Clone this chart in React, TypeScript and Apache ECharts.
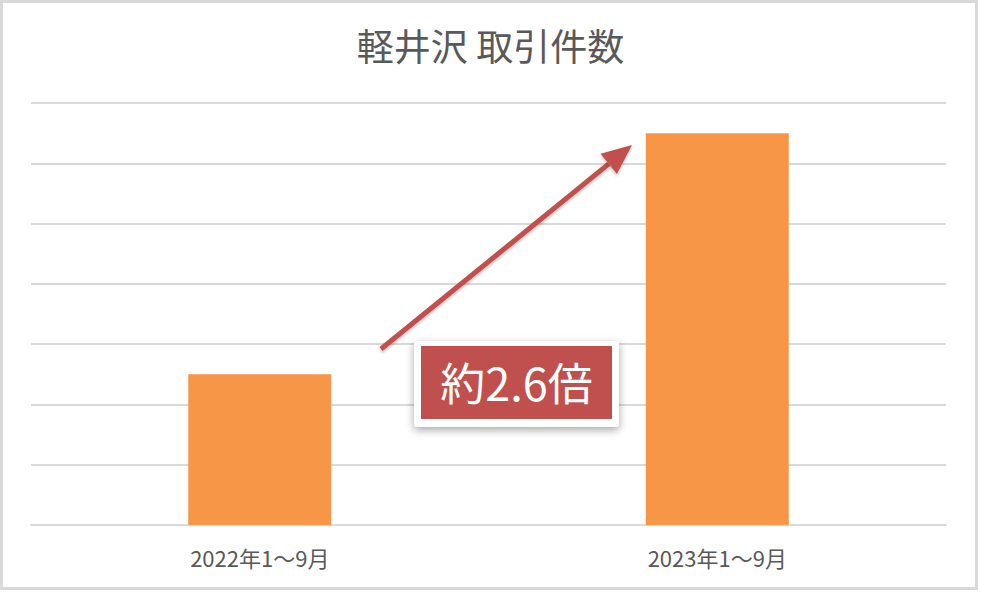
import React, { useEffect, useRef } from "react";
import * as echarts from "echarts";

const TITLE = "軽井沢 取引件数";
const categories = ["2022年1～9月", "2023年1～9月"];
const counts = [25, 65];
const ratioLabel = "約2.6倍";

const FONT = '"Noto Sans CJK JP", "Noto Sans", sans-serif';
const BAR_COLOR = "#f79646";
const RED = "#c0504d";
const GRID_COLOR = "#d9d9d9";
const TEXT_COLOR = "#595959";

// arrow: start and tip in pixels
const ARROW_FROM = [381, 349];
const ARROW_TIP = [632, 145];

function arrowHead(from: number[], tip: number[], len: number, half: number) {
    const dx = tip[0] - from[0];
    const dy = tip[1] - from[1];
    const d = Math.sqrt(dx * dx + dy * dy);
    const ux = dx / d;
    const uy = dy / d;
    const bx = tip[0] - ux * len;
    const by = tip[1] - uy * len;
    return {
        base: [bx, by],
        points: [
            [tip[0], tip[1]],
            [bx - uy * half, by + ux * half],
            [bx + uy * half, by - ux * half],
        ],
    };
}

export default function App() {
    const ref = useRef<HTMLDivElement | null>(null);

    useEffect(() => {
        if (!ref.current) return;
        const inst = echarts.init(ref.current, undefined, { renderer: "svg" });
        const head = arrowHead(ARROW_FROM, ARROW_TIP, 30, 13);

        const option: echarts.EChartsOption = {
            animation: false,
            backgroundColor: "#ffffff",
            title: {
                text: TITLE,
                left: "center",
                top: 21,
                textStyle: {
                    fontFamily: FONT,
                    fontSize: 37,
                    fontWeight: "normal",
                    color: TEXT_COLOR,
                },
            },
            grid: { left: 31, right: 35, top: 103, bottom: 67 },
            xAxis: {
                type: "category",
                data: categories,
                axisTick: { show: false },
                axisLine: { lineStyle: { color: GRID_COLOR, width: 2 } },
                axisLabel: {
                    margin: 21,
                    fontFamily: FONT,
                    fontSize: 22,
                    color: TEXT_COLOR,
                },
            },
            yAxis: {
                type: "value",
                min: 0,
                max: 70,
                interval: 10,
                axisLabel: { show: false },
                axisLine: { show: false },
                axisTick: { show: false },
                splitLine: { lineStyle: { color: GRID_COLOR, width: 2 } },
            },
            series: [
                {
                    type: "bar",
                    data: counts,
                    barWidth: 143,
                    itemStyle: { color: BAR_COLOR },
                },
            ],
            graphic: [
                {
                    type: "rect",
                    shape: { x: 1.5, y: 1.5, width: 975, height: 587 },
                    style: { fill: "none", stroke: GRID_COLOR, lineWidth: 3 },
                    silent: true,
                },
                {
                    type: "line",
                    shape: {
                        x1: ARROW_FROM[0],
                        y1: ARROW_FROM[1],
                        x2: head.base[0],
                        y2: head.base[1],
                    },
                    style: {
                        stroke: RED,
                        lineWidth: 5,
                        shadowBlur: 3,
                        shadowOffsetY: 2,
                        shadowColor: "rgba(0,0,0,0.25)",
                    },
                    z: 10,
                },
                {
                    type: "polygon",
                    shape: { points: head.points },
                    style: {
                        fill: RED,
                        shadowBlur: 3,
                        shadowOffsetY: 2,
                        shadowColor: "rgba(0,0,0,0.25)",
                    },
                    z: 10,
                },
                {
                    type: "rect",
                    shape: { x: 414, y: 341, width: 205, height: 86, r: 3 },
                    style: {
                        fill: "#ffffff",
                        shadowBlur: 8,
                        shadowOffsetY: 3,
                        shadowColor: "rgba(0,0,0,0.35)",
                    },
                    z: 11,
                },
                {
                    type: "rect",
                    shape: { x: 421, y: 346, width: 191, height: 73 },
                    style: { fill: RED },
                    z: 12,
                },
                {
                    type: "text",
                    x: 516.5,
                    y: 381,
                    style: {
                        text: ratioLabel,
                        fill: "#ffffff",
                        fontFamily: FONT,
                        fontSize: 45,
                        align: "center",
                        verticalAlign: "middle",
                    },
                    z: 13,
                },
            ],
        };

        inst.setOption(option);
        return () => {
            inst.dispose();
        };
    }, []);

    return (
        <div
            ref={ref}
            style={{ position: "fixed", left: 0, top: 0, width: 981, height: 592, background: "#fff" }}
        />
    );
}
